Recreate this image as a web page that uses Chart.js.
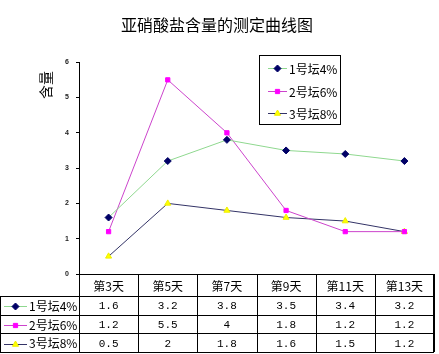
<!DOCTYPE html>
<html>
<head>
<meta charset="utf-8">
<script src="https://cdn.jsdelivr.net/npm/chart.js@4.4.1/dist/chart.umd.min.js"></script>
<style>
  html, body { margin: 0; padding: 0; background: #fff; }
  #wrap { width: 439px; height: 354px; }
</style>
</head>
<body>
<div id="wrap"><canvas id="c" width="439" height="354"></canvas></div>
<script>
// --- data ---
const days = ['第3天', '第5天', '第7天', '第9天', '第11天', '第13天'];
const tan1 = [1.6, 3.2, 3.8, 3.5, 3.4, 3.2];
const tan2 = [1.2, 5.5, 4, 1.8, 1.2, 1.2];
const tan3 = [0.5, 2, 1.8, 1.6, 1.5, 1.2];
const seriesNames = ['1号坛4%', '2号坛6%', '3号坛8%'];
const yTicks = [0, 1, 2, 3, 4, 5, 6];
const chartTitle = '亚硝酸盐含量的测定曲线图';
const yTitle = '含量';

const CJK = '"Noto Sans CJK SC", sans-serif';

// small marker + line sample, same look as the dataset
function drawSample(ctx, ds, x0, x1, y) {
    ctx.save();
    ctx.strokeStyle = ds.borderColor;
    ctx.lineWidth = 1;
    ctx.beginPath();
    ctx.moveTo(x0, y + 0.5);
    ctx.lineTo(x1, y + 0.5);
    ctx.stroke();
    ctx.fillStyle = ds.pointBackgroundColor;
    ctx.strokeStyle = ds.pointBorderColor;
    Chart.helpers.drawPoint(ctx, {
        pointStyle: ds.pointStyle,
        radius: ds.pointRadius,
        rotation: 0,
        borderWidth: 1
    }, (x0 + x1) / 2, y + 0.5);
    ctx.restore();
}

// --- table under the plot, y title and boxed legend ---
const extrasPlugin = {
    id: 'extras',
    afterDraw(chart) {
        const { ctx, chartArea: a, scales: { x } } = chart;
        const dsets = chart.data.datasets;
        const half = (x.getPixelForValue(1) - x.getPixelForValue(0)) / 2;
        const top = Math.round(a.bottom);
        const headH = 22;
        const rowH = 18.7;
        const bottom = Math.round(top + headH + rowH * dsets.length);
        const right = Math.round(a.right);

        ctx.save();
        ctx.strokeStyle = '#000';
        ctx.lineWidth = 1;
        ctx.beginPath();
        // horizontal rules
        for (let r = 0; r <= dsets.length; r++) {
            const y = Math.round(top + headH + rowH * r) + 0.5;
            ctx.moveTo(0, y);
            ctx.lineTo(right, y);
        }
        // column rules
        for (let i = 0; i <= days.length; i++) {
            const cx = Math.round(x.getPixelForValue(i) - half) + 0.5;
            ctx.moveTo(cx, top);
            ctx.lineTo(cx, bottom);
        }
        ctx.moveTo(right - 0.5, top);
        ctx.lineTo(right - 0.5, bottom);
        ctx.moveTo(0.5, top + headH);
        ctx.lineTo(0.5, bottom);
        ctx.stroke();

        ctx.fillStyle = '#000';
        ctx.textAlign = 'center';
        ctx.textBaseline = 'middle';
        ctx.font = '12px ' + CJK;
        days.forEach((d, i) => ctx.fillText(d, x.getPixelForValue(i), top + headH / 2 + 1));

        dsets.forEach((ds, r) => {
            const cy = top + headH + rowH * r + rowH / 2 + 1;
            ctx.fillStyle = '#000';
            ctx.textAlign = 'center';
            ctx.font = '11px "Liberation Mono", monospace';
            ds.data.forEach((v, i) => ctx.fillText(String(v), x.getPixelForValue(i), cy));
            drawSample(ctx, ds, 4, 27, Math.round(cy));
            ctx.fillStyle = '#000';
            ctx.textAlign = 'left';
            ctx.font = '12px ' + CJK;
            ctx.fillText(ds.label, 29, cy);
        });

        // y axis title, rotated
        ctx.save();
        ctx.translate(46, 85);
        ctx.rotate(-Math.PI / 2);
        ctx.fillStyle = '#000';
        ctx.textAlign = 'center';
        ctx.font = '14px ' + CJK;
        ctx.fillText(yTitle, 0, 0);
        ctx.restore();

        // legend box
        const lx = 259, ly = 55, lw = 81, lh = 69;
        ctx.fillStyle = '#fff';
        ctx.fillRect(lx, ly, lw, lh);
        ctx.strokeStyle = '#000';
        ctx.strokeRect(lx + 0.5, ly + 0.5, lw, lh);
        const rows = [68, 91, 113];
        dsets.forEach((ds, r) => {
            drawSample(ctx, ds, 268, 287, rows[r]);
            ctx.fillStyle = '#000';
            ctx.textAlign = 'left';
            ctx.font = '12px ' + CJK;
            ctx.fillText(ds.label, 289, rows[r] + 1);
        });
        ctx.restore();
    }
};

const ctx = document.getElementById('c').getContext('2d');
new Chart(ctx, {
    type: 'line',
    data: {
        labels: days,
        datasets: [
            {
                label: seriesNames[0], data: tan1,
                borderColor: '#8fd88f', borderWidth: 1,
                pointStyle: 'rectRot', pointRadius: 3.5,
                pointBackgroundColor: '#000066', pointBorderColor: '#000066'
            },
            {
                label: seriesNames[1], data: tan2,
                borderColor: '#cc44cc', borderWidth: 1,
                pointStyle: 'rect', pointRadius: 3,
                pointBackgroundColor: '#ff00ff', pointBorderColor: '#ff00ff'
            },
            {
                label: seriesNames[2], data: tan3,
                borderColor: '#333366', borderWidth: 1,
                pointStyle: 'triangle', pointRadius: 3.5,
                pointBackgroundColor: '#ffff00', pointBorderColor: '#eeee00'
            }
        ]
    },
    options: {
        responsive: false,
        animation: false,
        devicePixelRatio: 1,
        layout: { padding: { left: 0, right: 5, top: 0, bottom: 0 } },
        plugins: {
            legend: { display: false },
            tooltip: { enabled: false },
            title: {
                display: true,
                text: chartTitle,
                color: '#000',
                font: { size: 16, family: CJK, weight: 'normal' },
                padding: { top: 15, bottom: 28 }
            }
        },
        scales: {
            x: {
                type: 'category',
                offset: true,
                grid: { display: false },
                ticks: { display: false },
                border: { display: true, color: '#000', width: 1 },
                afterFit: (s) => { s.height = 80; }
            },
            y: {
                min: 0,
                max: 6,
                afterBuildTicks: (s) => { s.ticks = yTicks.map(v => ({ value: v })); },
                ticks: {
                    color: '#222',
                    padding: 7,
                    font: { size: 7, weight: 'bold', family: 'Liberation Sans' }
                },
                grid: { drawOnChartArea: false, drawTicks: true, tickLength: 3, color: '#000' },
                border: { display: true, color: '#000', width: 1 },
                afterFit: (s) => { s.width = 79; }
            }
        }
    },
    plugins: [extrasPlugin]
});
</script>
</body>
</html>
